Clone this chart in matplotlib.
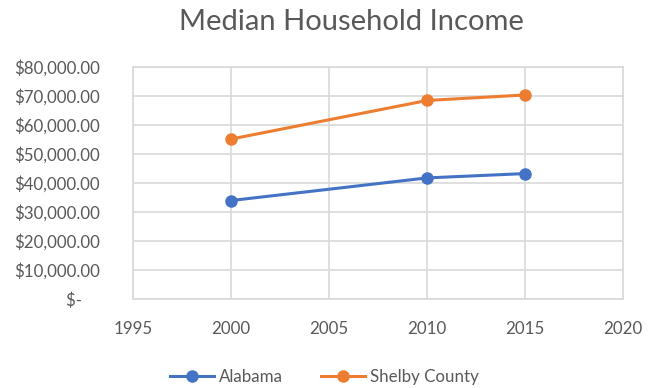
import matplotlib
matplotlib.use("Agg")
import matplotlib.pyplot as plt
from matplotlib.ticker import FuncFormatter, MultipleLocator

years = [2000, 2010, 2015]
alabama = [34000, 41800, 43300]
shelby_county = [55200, 68500, 70400]
series_names = ["Alabama", "Shelby County"]
title = "Median Household Income"

plt.rcParams["font.family"] = ["Lato", "DejaVu Sans"]

fig = plt.figure(figsize=(6.49, 3.88), dpi=100)
ax = fig.add_axes([0.205, 0.229, 0.755, 0.598])

text_color = "#595959"
grid_color = "#d9d9d9"

ax.plot(years, alabama, color="#4472C4", lw=2.2, marker="o", ms=8, label=series_names[0])
ax.plot(years, shelby_county, color="#ED7D31", lw=2.2, marker="o", ms=8, label=series_names[1])

ax.set_xlim(1995, 2020)
ax.set_ylim(0, 80000)
ax.xaxis.set_major_locator(MultipleLocator(5))
ax.yaxis.set_major_locator(MultipleLocator(10000))


def money(v, pos):
    if abs(v) < 1e-9:
        return "$-    "
    return f"${v:,.2f}"


ax.yaxis.set_major_formatter(FuncFormatter(money))
ax.grid(True, color=grid_color, lw=1.2)
ax.set_axisbelow(True)
for s in ax.spines.values():
    s.set_color(grid_color)
    s.set_linewidth(1.2)
ax.tick_params(length=0, labelsize=12.2, colors=text_color, pad=24)
ax.tick_params(axis="x", pad=16)

fig.text(0.541, 0.943, title, ha="center", va="center", fontsize=21, color=text_color)

fig.legend(loc="center", bbox_to_anchor=(0.5, 0.028), ncol=2, frameon=False,
           fontsize=12.2, labelcolor=text_color, handlelength=2.6,
           handletextpad=0.3, columnspacing=2.2)

fig.savefig("out.png", dpi=100, facecolor="white")
